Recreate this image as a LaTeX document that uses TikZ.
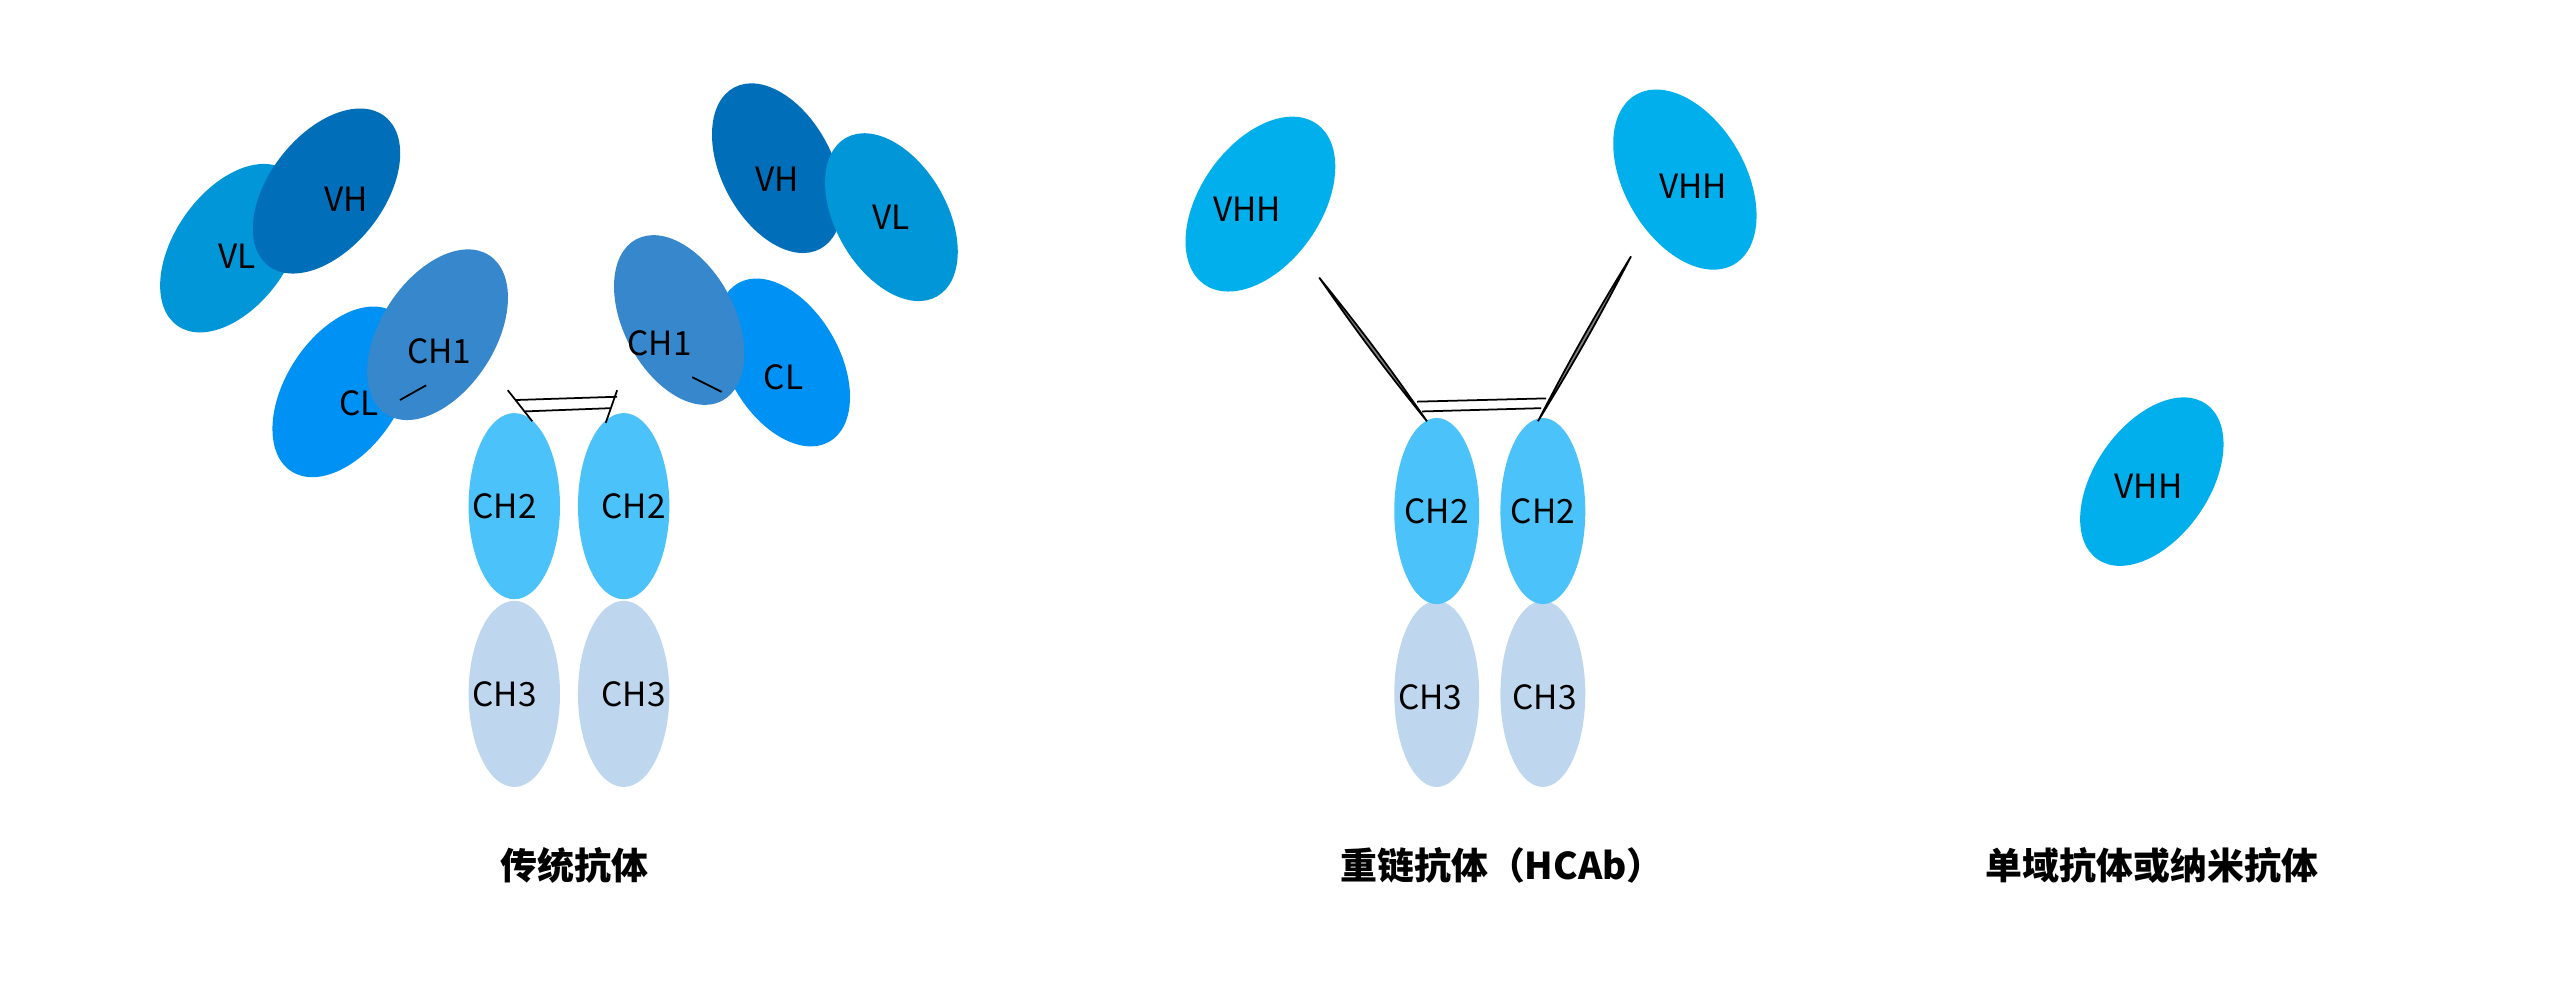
\documentclass[tikz,border=0pt]{standalone}
\usepackage{fontspec}
\setmainfont{Noto Sans CJK SC}
\begin{document}
\begin{tikzpicture}[x=0.016327cm,y=-0.016327cm,
  dom/.style={font=\fontsize{9.5}{11}\selectfont},
  title/.style={font=\fontsize{10.5}{12}\selectfont\bfseries},
  bond/.style={line width=0.5pt}]
  \definecolor{cVL}{RGB}{0,150,215}
  \definecolor{cVH}{RGB}{0,110,185}
  \definecolor{cCH1}{RGB}{55,135,205}
  \definecolor{cCL}{RGB}{0,145,245}
  \definecolor{cCH2}{RGB}{75,195,250}
  \definecolor{cCH3}{RGB}{190,215,238}
  \definecolor{cVHH}{RGB}{0,175,235}
  \useasboundingbox (0,0) rectangle (1568,612.5);

  % conventional antibody, left arm
  \fill[cVL,rotate around={55:(142,152)}] (142,152) ellipse (58 and 35);
  \fill[cVH,rotate around={52:(200,117)}] (200,117) ellipse (58 and 35);
  \fill[cCL,rotate around={57:(210,240)}] (210,240) ellipse (58 and 35);
  \fill[cCH1,rotate around={57:(268,205)}] (268,205) ellipse (58 and 35);
  % right arm
  \fill[cVH,rotate around={-62:(476,103)}] (476,103) ellipse (56 and 34);
  \fill[cVL,rotate around={-60:(546,133)}] (546,133) ellipse (56 and 34);
  \fill[cCL,rotate around={-60:(480,222)}] (480,222) ellipse (56 and 34);
  \fill[cCH1,rotate around={-62:(416,196)}] (416,196) ellipse (56 and 34);
  % Fc
  \foreach \x in {315,382} {
    \fill[cCH3] (\x,425) ellipse (28 and 57);
    \fill[cCH2] (\x,310) ellipse (28 and 57);
  }
  % hinge and light chain links
  \coordinate (hl1) at (311,239); \coordinate (hl2) at (326,258);
  \coordinate (hr1) at (378,239); \coordinate (hr2) at (371,259);
  \draw[bond] (hl1) -- (hl2) (hr1) -- (hr2);
  \draw[bond] (316,245) -- (378,243) (321,252) -- (374,250);
  \draw[bond] (261,236) -- (245,245) (424,231) -- (442,240);

  \node[dom] (vlL) at (145,157) {VL};
  \node[dom] (vhL) at (212,122) {VH};
  \node[dom] (clL) at (220,247) {CL};
  \node[dom] (ch1L) at (269,215) {CH1};
  \node[dom] (vhR) at (476,110) {VH};
  \node[dom] (vlR) at (546,133) {VL};
  \node[dom] (clR) at (480,231) {CL};
  \node[dom] (ch1R) at (404,210) {CH1};
  \node[dom] (ch2a) at (309,310) {CH2};
  \node[dom] (ch2b) at (388,310) {CH2};
  \node[dom] (ch3a) at (309,425) {CH3};
  \node[dom] (ch3b) at (388,425) {CH3};

  % heavy chain antibody
  \fill[cVHH,rotate around={55:(772,125)}] (772,125) ellipse (60 and 37);
  \fill[cVHH,rotate around={-60:(1032,110)}] (1032,110) ellipse (60 and 37);
  \foreach \x in {880,945} {
    \fill[cCH3] (\x,425) ellipse (26 and 57);
    \fill[cCH2] (\x,313) ellipse (26 and 57);
  }
  \coordinate (la) at (808,170); \coordinate (lb) at (874,258);
  \coordinate (ra) at (999,157); \coordinate (rb) at (942,258);
  \filldraw[fill=gray,bond] (la) to[bend left=2] (lb) to[bend left=2] (la);
  \filldraw[fill=gray,bond] (ra) to[bend left=2] (rb) to[bend left=2] (ra);
  \draw[bond] (868,246) -- (947,244) (871,252) -- (944,250);
  \node[dom] (vhhL) at (764,128) {VHH};
  \node[dom] (vhhR) at (1037,114) {VHH};
  \node[dom] (hch2a) at (880,313) {CH2};
  \node[dom] (hch2b) at (945,313) {CH2};
  \node[dom] (hch3a) at (876,427) {CH3};
  \node[dom] (hch3b) at (946,427) {CH3};

  % single domain
  \fill[cVHH,rotate around={55:(1318,295)}] (1318,295) ellipse (58 and 35);
  \node[dom] (vhhS) at (1316,298) {VHH};

  % titles
  \node[title] (t1) at (352,530) {传统抗体};
  \node[title] (t2) at (920,530) {重链抗体（HCAb）};
  \node[title] (t3) at (1318,530) {单域抗体或纳米抗体};
\end{tikzpicture}
\end{document}
